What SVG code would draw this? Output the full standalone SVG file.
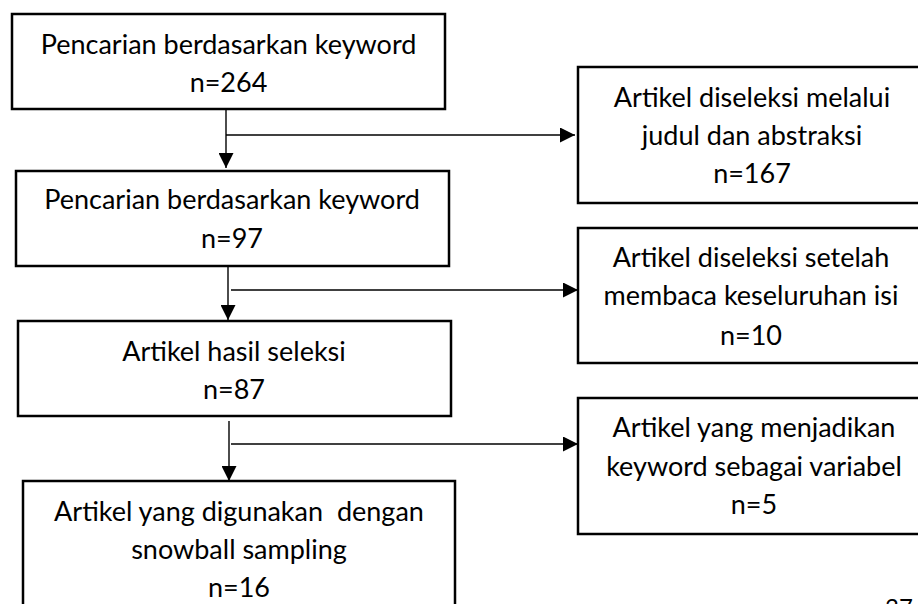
<svg xmlns="http://www.w3.org/2000/svg" width="918" height="604" viewBox="0 0 918 604">
<style>
  .box { fill: #ffffff; stroke: #000000; stroke-width: 2.5; }
  .t { font-family: Lato, "Liberation Sans", sans-serif; font-size: 27px; fill: #000000; text-anchor: middle; }
  .ln { fill: none; stroke: #000000; stroke-width: 1.4; }
  .pg { font-family: Lato, "Liberation Sans", sans-serif; font-size: 24px; fill: #000000; }
</style>
<defs>
  <marker id="ah" viewBox="0 0 10 10" refX="10" refY="5" markerWidth="15" markerHeight="15" markerUnits="userSpaceOnUse" orient="auto">
    <path d="M0,0 L10,5 L0,10 Z" fill="#000000"/>
  </marker>
</defs>
<rect width="918" height="604" fill="#ffffff"/>
<g id="connectors">
  <line class="ln" x1="226" y1="109" x2="226" y2="168" marker-end="url(#ah)"/>
  <line class="ln" x1="226" y1="135" x2="575" y2="135" marker-end="url(#ah)"/>
  <line class="ln" x1="228" y1="266" x2="228" y2="320" marker-end="url(#ah)"/>
  <line class="ln" x1="231" y1="290" x2="578" y2="290" marker-end="url(#ah)"/>
  <line class="ln" x1="229" y1="421" x2="229" y2="481" marker-end="url(#ah)"/>
  <line class="ln" x1="231" y1="444" x2="578" y2="444" marker-end="url(#ah)"/>
</g>
<g id="node1">
  <rect class="box" x="12" y="14" width="433" height="95"/>
  <text class="t" x="228.5" y="54">Pencarian berdasarkan keyword</text>
  <text class="t" x="228.5" y="92">n=264</text>
</g>
<g id="node2">
  <rect class="box" x="16" y="171" width="433" height="95"/>
  <text class="t" x="232" y="209">Pencarian berdasarkan keyword</text>
  <text class="t" x="232" y="248">n=97</text>
</g>
<g id="node3">
  <rect class="box" x="18" y="321" width="433" height="95"/>
  <text class="t" x="234" y="361">Artikel hasil seleksi</text>
  <text class="t" x="234" y="399">n=87</text>
</g>
<g id="node4">
  <rect class="box" x="23" y="481" width="432" height="140"/>
  <text class="t" x="239" y="521" xml:space="preserve">Artikel yang digunakan  dengan</text>
  <text class="t" x="239" y="559">snowball sampling</text>
  <text class="t" x="239" y="597">n=16</text>
</g>
<g id="node5">
  <rect class="box" x="578" y="67" width="360" height="136"/>
  <text class="t" x="752" y="107">Artikel diseleksi melalui</text>
  <text class="t" x="752" y="145">judul dan abstraksi</text>
  <text class="t" x="752" y="183">n=167</text>
</g>
<g id="node6">
  <rect class="box" x="578" y="228" width="360" height="135"/>
  <text class="t" x="751" y="267">Artikel diseleksi setelah</text>
  <text class="t" x="751" y="305">membaca keseluruhan isi</text>
  <text class="t" x="751" y="345">n=10</text>
</g>
<g id="node7">
  <rect class="box" x="578" y="398" width="360" height="136"/>
  <text class="t" x="754" y="437">Artikel yang menjadikan</text>
  <text class="t" x="754" y="476">keyword sebagai variabel</text>
  <text class="t" x="754" y="514">n=5</text>
</g>
<text class="pg" x="885" y="616">37</text>
</svg>
